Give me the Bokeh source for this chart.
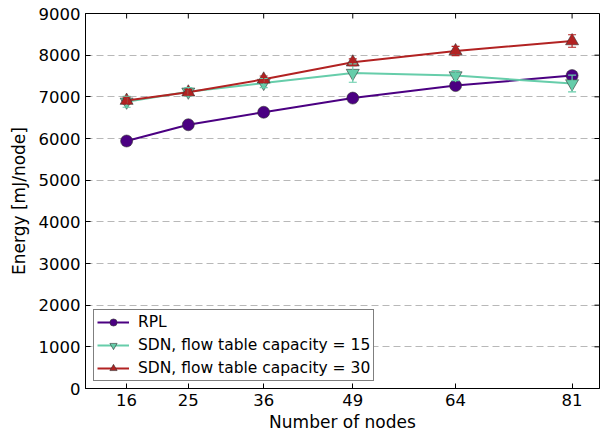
import math
from bokeh.plotting import figure
from bokeh.models import (ColumnDataSource, Whisker, TeeHead, FixedTicker,
                          Legend, LegendItem, Range1d)
from bokeh.embed import file_html
from bokeh.resources import INLINE

nodes = [16, 25, 36, 49, 64, 81]
rpl = [5940, 6330, 6630, 6970, 7270, 7510]
rpl_err = [50, 50, 60, 60, 60, 60]
sdn15 = [6880, 7120, 7330, 7570, 7510, 7320]
sdn15_err = [130, 100, 110, 220, 120, 200]
sdn30 = [6910, 7110, 7420, 7830, 8100, 8340]
sdn30_err = [80, 70, 80, 80, 110, 150]
y_ticks = [0, 1000, 2000, 3000, 4000, 5000, 6000, 7000, 8000, 9000]
labels = ["RPL", "SDN, flow table capacity = 15", "SDN, flow table capacity = 30"]
colors = ["#4b0082", "#66cdaa", "#b22222"]
markers = ["circle", "inverted_triangle", "triangle"]
X_MIN, X_MAX, Y_MIN, Y_MAX = 10, 85, 0, 9000

FONT = "DejaVu Sans"

p = figure(width=603, height=437, output_backend="svg", toolbar_location=None,
           x_range=Range1d(X_MIN, X_MAX), y_range=Range1d(Y_MIN, Y_MAX),
           min_border_left=85, min_border_right=4, min_border_top=13, min_border_bottom=49)
p.outline_line_color = "black"
p.outline_line_width = 1
p.xgrid.visible = False
p.ygrid.grid_line_color = "#b8b8b8"
p.ygrid.grid_line_dash = "7 4"
p.ygrid.ticker = FixedTicker(ticks=y_ticks)

for ax, ticks in ((p.xaxis[0], nodes), (p.yaxis[0], y_ticks)):
    ax.ticker = FixedTicker(ticks=ticks)
    ax.major_tick_in = 5
    ax.major_tick_out = 0
    ax.minor_tick_line_color = None
    ax.axis_line_color = "black"
    ax.major_label_text_font = FONT
    ax.major_label_text_font_size = "16.5px"
    ax.major_label_text_color = "black"
    ax.axis_label_text_font = FONT
    ax.axis_label_text_font_size = "17px"
    ax.axis_label_text_font_style = "normal"
    ax.axis_label_text_color = "black"
    ax.major_label_standoff = 5

p.xaxis.axis_label = "Number of nodes"
p.yaxis.axis_label = "Energy [mJ/node]"
p.xaxis.axis_label_standoff = 3
p.yaxis.axis_label_standoff = 7

# inward ticks on the top and right frame edges
p.ray(x=nodes, y=[Y_MAX] * len(nodes), length=5, length_units="screen",
      angle=-math.pi / 2, line_color="black", line_width=1)
p.ray(x=[X_MAX] * len(y_ticks), y=y_ticks, length=5, length_units="screen",
      angle=math.pi, line_color="black", line_width=1)

items = []
for ys, errs, c, m, lab in zip((rpl, sdn15, sdn30), (rpl_err, sdn15_err, sdn30_err),
                               colors, markers, labels):
    src = ColumnDataSource(dict(x=nodes, y=ys,
                                lo=[a - b for a, b in zip(ys, errs)],
                                hi=[a + b for a, b in zip(ys, errs)]))
    ln = p.line("x", "y", source=src, line_color=c, line_width=2)
    w = Whisker(base="x", lower="lo", upper="hi", source=src, dimension="height",
                line_color=c, line_width=1.2,
                upper_head=TeeHead(size=8, line_color=c, line_width=1.2),
                lower_head=TeeHead(size=8, line_color=c, line_width=1.2), level="glyph")
    p.add_layout(w)
    sz = 12 if m == "circle" else 13
    sc = p.scatter("x", "y", source=src, marker=m, size=sz, fill_color=c,
                   line_color="#333333", line_width=0.6)
    items.append(LegendItem(label=lab, renderers=[ln, sc]))

legend = Legend(items=items, location=(8, 7), border_line_color="black",
                border_line_width=1.2, label_text_font=FONT, label_text_font_size="15.5px",
                label_text_color="black",
                glyph_width=32, glyph_height=18, spacing=5, padding=3, margin=0,
                label_standoff=9, background_fill_alpha=1)
p.add_layout(legend, "center")

open("out.html", "w").write(file_html(p, INLINE))
